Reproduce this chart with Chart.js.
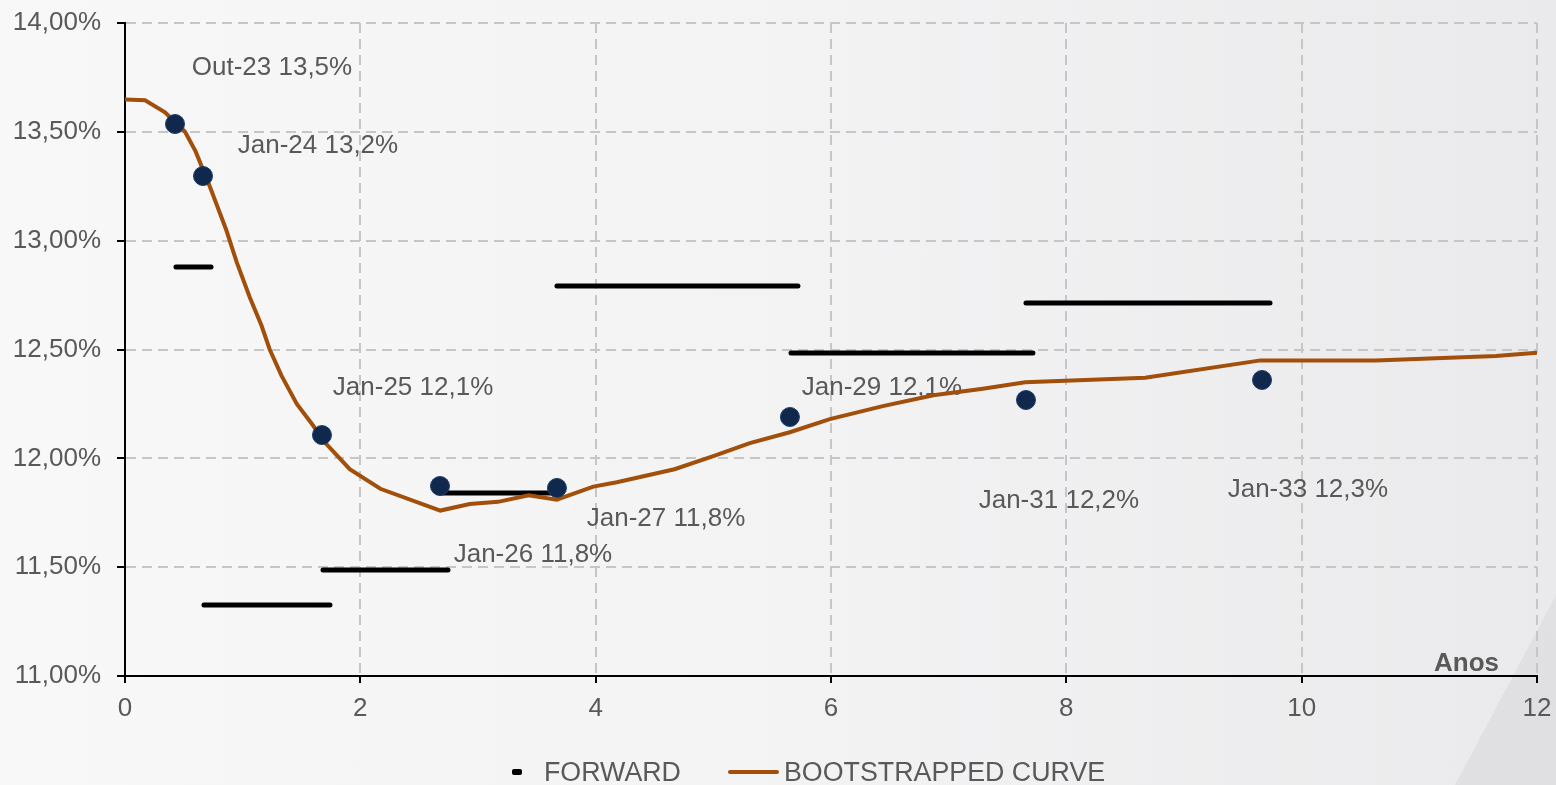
<!DOCTYPE html>
<html>
<head>
<meta charset="utf-8">
<script src="https://cdn.jsdelivr.net/npm/chart.js@4.4.1/dist/chart.umd.min.js"></script>
<style>
    html, body { margin: 0; padding: 0; }
    body {
        width: 1556px; height: 785px; overflow: hidden; position: relative;
        background: linear-gradient(90deg, #f8f8f9 0%, #f3f3f4 50%, #eaeaec 100%);
        font-family: "Liberation Sans", Arial, sans-serif;
    }
    #wedge {
        position: absolute; left: 0; top: 0; width: 1556px; height: 785px;
        background: linear-gradient(160deg, #e6e6e8 0%, #e0e0e2 100%);
        clip-path: polygon(1556px 595px, 1556px 785px, 1455px 785px);
    }
    #stockChart { position: absolute; left: 0; top: 0; }
    .legend-text {
        position: absolute; top: 757px; line-height: 30px;
        font-size: 26.8px; color: #595959; white-space: nowrap;
    }
    .legend-mark { position: absolute; border-radius: 2px; }
</style>
</head>
<body>
<div id="wedge"></div>
<canvas id="stockChart" width="1556" height="785"></canvas>
<div class="legend-mark" style="left:512px; top:769px; width:10px; height:6px; background:#000;"></div>
<div class="legend-text" style="left:544px;">FORWARD</div>
<div class="legend-mark" style="left:728px; top:770px; width:51px; height:4px; background:#a14f0a;"></div>
<div class="legend-text" style="left:784px;">BOOTSTRAPPED CURVE</div>
<script>
// bootstrapped curve (years, %)
const curveX = [0, 0.17, 0.34, 0.51, 0.60, 0.72, 0.86, 0.95, 1.06, 1.16, 1.23, 1.33, 1.46, 1.60,
                1.67, 1.91, 2.17, 2.68, 2.93, 3.17, 3.43, 3.67, 3.98, 4.18, 4.67, 5.00, 5.31,
                5.65, 5.99, 6.44, 6.87, 7.29, 7.65, 8.67, 9.65, 10.63, 11.65, 12];
const curveY = [13.649, 13.645, 13.59, 13.50, 13.41, 13.25, 13.05, 12.90, 12.74, 12.61, 12.50, 12.38, 12.25, 12.15,
                12.09, 11.95, 11.86, 11.76, 11.79, 11.80, 11.83, 11.81, 11.87, 11.89, 11.95, 12.01, 12.07,
                12.12, 12.18, 12.24, 12.29, 12.32, 12.35, 12.37, 12.45, 12.45, 12.47, 12.485];

// market points
const pointX = [0.425, 0.663, 1.674, 2.677, 3.671, 5.651, 7.657, 9.663];
const pointY = [13.536, 13.297, 12.107, 11.873, 11.864, 12.190, 12.268, 12.360];

// forward segments
const fwdStart = [0.433, 0.671, 1.683, 2.677, 3.671, 5.660, 7.657];
const fwdEnd   = [0.731, 1.742, 2.745, 3.663, 5.719, 7.716, 9.731];
const fwdRate  = [12.879, 11.326, 11.487, 11.841, 12.792, 12.484, 12.714];

// labels
const labelText = ['Out-23 13,5%', 'Jan-24 13,2%', 'Jan-25 12,1%', 'Jan-26 11,8%',
                   'Jan-27 11,8%', 'Jan-29 12,1%', 'Jan-31 12,2%', 'Jan-33 12,3%'];
const labelX = [1.249, 1.640, 2.448, 3.467, 4.598, 6.433, 7.937, 10.053];
const labelY = [13.793, 13.435, 12.323, 11.556, 11.722, 12.323, 11.804, 11.855];

const yTickLabels = ['11,00%', '11,50%', '12,00%', '12,50%', '13,00%', '13,50%', '14,00%'];
const xTickLabels = ['0', '2', '4', '6', '8', '10', '12'];

const textColor = '#595959';
const fontFamily = '"Liberation Sans", Arial, sans-serif';

const curveData = curveX.map((x, i) => ({ x, y: curveY[i] }));
const pointData = pointX.map((x, i) => ({ x, y: pointY[i] }));
const fwdData = [];
fwdStart.forEach((s, i) => {
    fwdData.push({ x: s, y: fwdRate[i] }, { x: fwdEnd[i], y: fwdRate[i] }, { x: fwdEnd[i], y: null });
});

const labelPlugin = {
    id: 'pointLabels',
    beforeDatasetsDraw(chart) {
        const { ctx, scales: { x, y }, chartArea } = chart;
        ctx.save();
        ctx.fillStyle = textColor;
        ctx.font = `26px ${fontFamily}`;
        ctx.textAlign = 'center';
        ctx.textBaseline = 'middle';
        labelText.forEach((t, i) => {
            ctx.fillText(t, x.getPixelForValue(labelX[i]), y.getPixelForValue(labelY[i]));
        });
        ctx.font = `bold 26px ${fontFamily}`;
        ctx.textAlign = 'right';
        ctx.textBaseline = 'alphabetic';
        ctx.fillText('Anos', chartArea.right - 38, chartArea.bottom - 5);
        ctx.restore();
    }
};

const ctx = document.getElementById('stockChart').getContext('2d');
new Chart(ctx, {
    type: 'line',
    data: {
        datasets: [
            {
                type: 'scatter',
                label: 'points',
                data: pointData,
                backgroundColor: '#10284b',
                borderColor: '#1f3d6b',
                borderWidth: 1,
                pointRadius: 9.5,
                order: 0,
            },
            {
                label: 'BOOTSTRAPPED CURVE',
                data: curveData,
                borderColor: '#a14f0a',
                borderWidth: 4,
                pointRadius: 0,
                tension: 0,
                fill: false,
                order: 1,
            },
            {
                label: 'FORWARD',
                data: fwdData,
                borderColor: '#000000',
                borderWidth: 5,
                borderCapStyle: 'round',
                pointRadius: 0,
                spanGaps: false,
                fill: false,
                order: 2,
            }
        ]
    },
    options: {
        responsive: false,
        animation: false,
        layout: { padding: { top: 23, right: 19, left: 0, bottom: 0 } },
        plugins: {
            legend: { display: false },
            tooltip: { enabled: false }
        },
        scales: {
            x: {
                type: 'linear',
                min: 0, max: 12,
                ticks: {
                    stepSize: 2, color: textColor, padding: 10, maxRotation: 0,
                    font: { family: fontFamily, size: 26 },
                    callback: (v) => xTickLabels[Math.round(v / 2)]
                },
                grid: { color: '#c6c6c8', lineWidth: 2, tickColor: '#000', tickWidth: 2, tickLength: 7 },
                border: { color: '#000', width: 2, dash: [10, 6] },
                afterFit: (s) => { s.height = 109; s.paddingLeft = 0; s.paddingRight = 0; }
            },
            y: {
                min: 11, max: 14,
                ticks: {
                    stepSize: 0.5, color: textColor, padding: 16,
                    font: { family: fontFamily, size: 26 },
                    callback: (v) => yTickLabels[Math.round((v - 11) * 2)]
                },
                grid: { color: '#c6c6c8', lineWidth: 2, tickColor: '#000', tickWidth: 2, tickLength: 8 },
                border: { color: '#000', width: 2, dash: [10, 6] },
                afterFit: (s) => { s.width = 125; s.paddingTop = 0; s.paddingBottom = 0; }
            }
        }
    },
    plugins: [labelPlugin]
});
</script>
</body>
</html>
